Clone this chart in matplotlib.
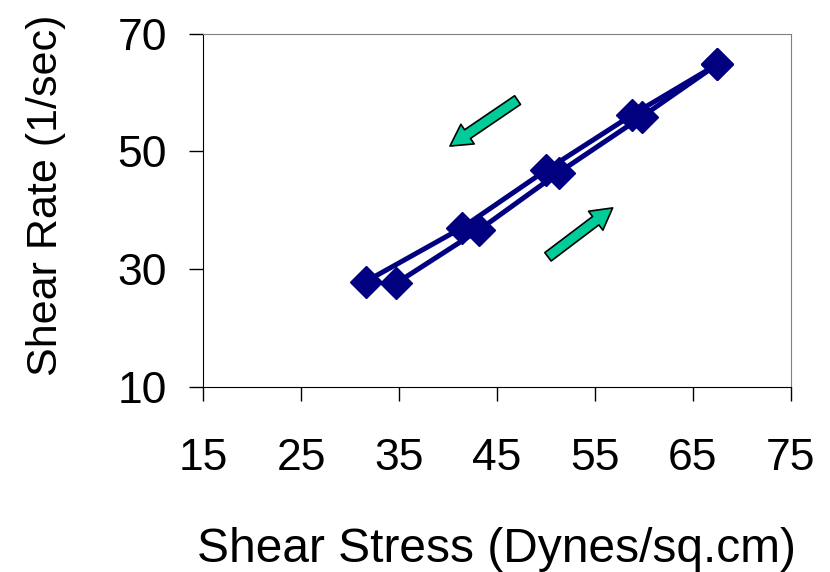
import matplotlib
matplotlib.use("Agg")
import matplotlib.pyplot as plt

plt.rcParams['font.family'] = ['Liberation Sans', 'DejaVu Sans']

# increasing shear (up curve) and decreasing shear (down curve)
stress_up = [34.7, 43.2, 51.3, 59.8, 67.5]
rate_up = [27.6, 36.7, 46.4, 55.9, 64.8]
stress_down = [67.5, 58.8, 50.0, 41.4, 31.6]
rate_down = [64.8, 56.2, 46.8, 37.0, 27.9]

xticks = [15, 25, 35, 45, 55, 65, 75]
yticks = [10, 30, 50, 70]

navy = "#000080"
arrow_green = "#00CC99"

fig = plt.figure(figsize=(8.30, 5.72), dpi=100)
ax = fig.add_axes([0.2446, 0.3234, 0.7084, 0.618])

ax.plot(stress_down, rate_down, color=navy, lw=3.6, marker="D", ms=16,
        mec=navy, mfc=navy, zorder=3)
ax.plot(stress_up, rate_up, color=navy, lw=3.6, marker="D", ms=16,
        mec=navy, mfc=navy, zorder=3)

# direction arrows
arrow_style = "simple,head_length=0.85,head_width=0.95,tail_width=0.42"
ax.annotate("", xy=(40.2, 50.9), xytext=(47.1, 58.7),
            arrowprops=dict(arrowstyle=arrow_style, fc=arrow_green, ec="black",
                            lw=1.2, mutation_scale=18, shrinkA=0, shrinkB=0))
ax.annotate("", xy=(56.8, 40.4), xytext=(50.2, 32.1),
            arrowprops=dict(arrowstyle=arrow_style, fc=arrow_green, ec="black",
                            lw=1.2, mutation_scale=18, shrinkA=0, shrinkB=0))

ax.set_xlim(15, 75)
ax.set_ylim(10, 70)
ax.set_xticks(xticks)
ax.set_yticks(yticks)
ax.tick_params(direction="out", length=10, width=1, labelsize=32, color="black")
ax.tick_params(axis="x", pad=27)
ax.tick_params(axis="y", pad=16)

for side in ["top", "right"]:
    ax.spines[side].set_color("#808080")
for side in ["left", "bottom"]:
    ax.spines[side].set_color("black")

fig.text(496 / 830, 1 - 550 / 572, "Shear Stress (Dynes/sq.cm)", fontsize=34.5,
         ha="center", va="center")
fig.text(46 / 830, 1 - 195 / 572, "Shear Rate (1/sec)", fontsize=31,
         ha="center", va="center", rotation=90)

fig.savefig("out.png", dpi=100)
